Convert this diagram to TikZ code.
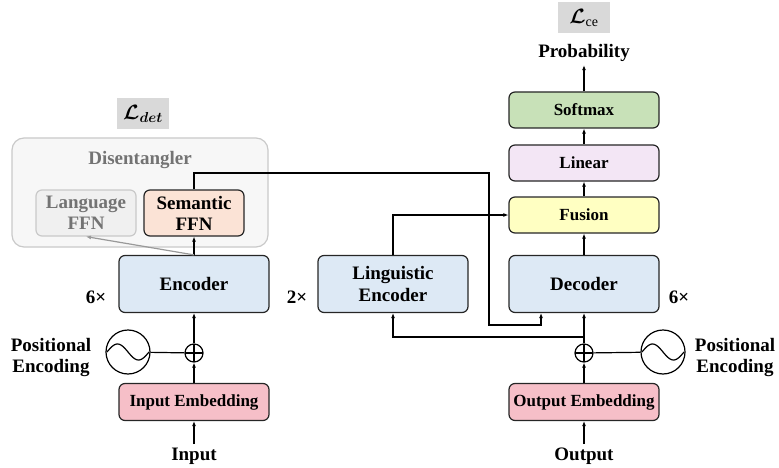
\documentclass[tikz,border=0pt]{standalone}
\usepackage{amsmath,bm}
\usepackage{fontspec}
\setmainfont{Liberation Serif}
\usetikzlibrary{arrows.meta}

\definecolor{encblue}{HTML}{DDE9F5}
\definecolor{embpink}{HTML}{F6BFC8}
\definecolor{fusyellow}{HTML}{FFFFC2}
\definecolor{linlav}{HTML}{F3E6F5}
\definecolor{softgreen}{HTML}{C8E1B8}
\definecolor{sempeach}{HTML}{FBE3D6}
\definecolor{lossgray}{HTML}{D9D9D9}
\definecolor{disgray}{HTML}{C9C9C9}

\tikzset{
  txt/.style={font=\fontsize{17}{18}\selectfont\bfseries, align=center},
  lbl/.style={font=\fontsize{19}{21}\selectfont\bfseries, align=center},
  block/.style={txt, draw=black!85, line width=1.2pt, rounded corners=6pt,
    minimum width=150pt, minimum height=57pt},
  bigblock/.style={block, lbl},
  thinblock/.style={block, minimum height=37pt},
  ffnblock/.style={block, lbl, minimum width=100pt, minimum height=46pt, inner sep=1pt},
  arr/.style={-{Latex[length=5pt,width=4pt]}, line width=1.2pt},
  adder/.style={draw, line width=1.2pt, circle, minimum size=18pt, inner sep=0pt,
    path picture={\draw[line width=1.2pt] (path picture bounding box.north) -- (path picture bounding box.south)
      (path picture bounding box.west) -- (path picture bounding box.east);}},
  wave/.style={draw, line width=1.2pt, circle, minimum size=44pt, inner sep=0pt},
  loss/.style={fill=lossgray, minimum width=52pt, minimum height=31pt, font=\fontsize{20}{22}\selectfont}
}

\begin{document}
\begin{tikzpicture}[x=1pt,y=-1pt]
  \useasboundingbox (0,0) rectangle (779,468);

  % Disentangler
  \node[draw=disgray, fill=black!3, line width=1.2pt, rounded corners=12pt,
        minimum width=256pt, minimum height=109pt] (dis) at (140,192.5) {};
  \node[lbl, text=black!55] (distitle) at (140,160) {Disentangler};
  \node[ffnblock, draw=disgray, fill=black!6, text=black!55] (lang) at (86,213) {Language\\FFN};
  \node[ffnblock, fill=sempeach] (sem) at (194,213) {Semantic\\FFN};
  \node[loss] (ldet) at (143,114) {$\bm{\mathcal{L}}_{\bm{det}}$};

  % Encoder side
  \node[bigblock, fill=encblue] (enc) at (194,284) {Encoder};
  \node[lbl] (encn) at (96,297) {6×};
  \node[adder] (addL) at (194,353) {};
  \node[wave] (waveL) at (128,352) {};
  \draw[line width=1.2pt, shift={(waveL)}, domain=-21:21, samples=40, smooth] plot ({\x},{8*sin(8.57*\x)});
  \node[lbl] (posL) at (51,358) {Positional\\Encoding};
  \node[thinblock, fill=embpink] (iemb) at (194,402) {Input Embedding};
  \node[lbl] (inp) at (194,456) {Input};

  % Linguistic encoder
  \node[bigblock, fill=encblue] (ling) at (393,284) {Linguistic\\Encoder};
  \node[lbl] (lingn) at (297,297) {2×};

  % Decoder side
  \node[bigblock, fill=encblue] (dec) at (584,284) {Decoder};
  \node[lbl] (decn) at (679,297) {6×};
  \node[adder] (addR) at (584,353) {};
  \node[wave] (waveR) at (663,352) {};
  \draw[line width=1.2pt, shift={(waveR)}, domain=-21:21, samples=40, smooth] plot ({\x},{8*sin(8.57*\x)});
  \node[lbl] (posR) at (735,358) {Positional\\Encoding};
  \node[thinblock, fill=embpink] (oemb) at (584,402) {Output Embedding};
  \node[lbl] (outp) at (584,456) {Output};

  % Head
  \node[block, minimum height=36pt, fill=fusyellow] (fus) at (584,215) {Fusion};
  \node[block, minimum height=36pt, fill=linlav] (lin) at (584,163) {Linear};
  \node[block, minimum height=36pt, fill=softgreen] (soft) at (584,110) {Softmax};
  \node[lbl] (prob) at (584,53) {Probability};
  \node[loss] (lce) at (584,18) {$\bm{\mathcal{L}}_{\mathrm{ce}}$};

  % Connectors
  \draw[arr] (inp) -- (iemb);
  \draw[arr] (iemb) -- (addL);
  \draw[arr] (addL) -- (enc);
  \draw[line width=1.2pt] (waveL) -- (addL);
  \draw[arr] (enc) -- (sem);
  \draw[arr, black!40] (enc.north) -- (lang.south);

  \draw[arr] (outp) -- (oemb);
  \draw[arr] (oemb) -- (addR);
  \draw[arr] (addR) -- (dec);
  \draw[line width=1.2pt] (addR) -- (waveR);
  \coordinate (branch) at (584,337);
  \draw[arr] (branch) -| (ling.south);

  \coordinate (skipA) at (489,173);
  \coordinate (skipB) at (489,325);
  \draw[arr] (sem.north) |- (skipA) -- (skipB) -| ([xshift=-43pt]dec.south);
  \draw[arr] (ling.north) |- (fus.west);

  \draw[arr] (dec) -- (fus);
  \draw[arr] (fus) -- (lin);
  \draw[arr] (lin) -- (soft);
  \draw[arr] (soft) -- (prob);
\end{tikzpicture}
\end{document}
